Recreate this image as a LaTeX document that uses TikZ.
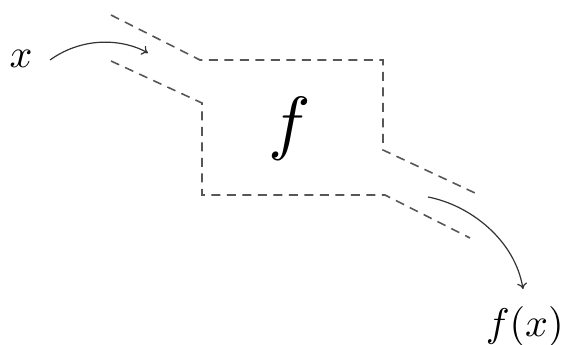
\documentclass[tikz,border=0pt]{standalone}
\usetikzlibrary{arrows.meta}
\begin{document}
\begin{tikzpicture}[x=1pt,y=-1pt,
  pipe/.style={draw=black!66, line width=1.6pt, dash pattern=on 9pt off 6.5pt},
  flow/.style={draw=black!80, line width=1.2pt, -{To[length=6pt,width=10pt]}},
  lbl/.style={inner sep=0pt, anchor=base},
  small/.style={scale=4},
  big/.style={scale=7.1}]
\useasboundingbox (0,0) rectangle (565,345);
% pipe outline
\draw[pipe] (111,15) -- (200,60) -- (383,60) -- (383,150) -- (475,193);
\draw[pipe] (111,61) -- (202,103) -- (202,195) -- (385,195) -- (470,238);
% labels
\node[lbl, small] (xin) at (21,68) {$x$};
\node[lbl, big] (fbox) at (290,146) {$f$};
\node[lbl, small, anchor=base west] (fx) at (485,336) {$f(x)$};
% connectors
\coordinate (xstart) at (50,60);
\coordinate (xend) at (148,53);
\coordinate (ystart) at (428,197);
\coordinate (yend) at (523,289);
\draw[flow] (xstart) .. controls (85,35) and (125,40) .. (xend);
\draw[flow] (ystart) .. controls (470,205) and (515,240) .. (yend);
\end{tikzpicture}
\end{document}
